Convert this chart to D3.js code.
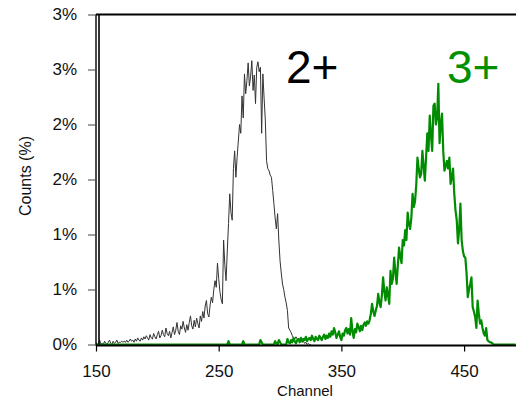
<!DOCTYPE html>
<html>
<head>
<meta charset="utf-8">
<script src="https://cdn.jsdelivr.net/npm/d3@7"></script>
<style>
  body { margin: 0; background: #fff; }
  svg { display: block; font-family: "Liberation Sans", Arial, sans-serif; }
  .axis path { display: none; }
  .axis text { fill: #111; }
</style>
</head>
<body>
<div id="chart"></div>
<script>
// channel range and tick labels
const channelStart = 150;
const xTicks = [150, 250, 350, 450];
const yTicks = [0, 0.5, 1, 1.5, 2, 2.5, 3];
const seriesNames = ['2+', '3+'];

// counts (%) per channel, starting at channel 150
const counts2 = [
  0.02,0.00,0.01,0.04,0.00,0.01,0.00,0.03,0.01,0.00,
  0.02,0.04,0.01,0.00,0.03,0.01,0.02,0.04,0.01,0.02,
  0.02,0.03,0.02,0.03,0.02,0.04,0.02,0.03,0.05,0.03,
  0.04,0.02,0.05,0.03,0.06,0.04,0.03,0.06,0.04,0.07,
  0.05,0.08,0.06,0.04,0.09,0.06,0.05,0.10,0.07,0.05,
  0.09,0.12,0.06,0.08,0.13,0.09,0.07,0.15,0.10,0.08,
  0.12,0.06,0.11,0.16,0.09,0.13,0.20,0.12,0.09,0.17,
  0.14,0.21,0.15,0.11,0.18,0.13,0.20,0.26,0.17,0.14,
  0.22,0.16,0.24,0.19,0.15,0.26,0.21,0.30,0.24,0.35,
  0.40,0.28,0.25,0.36,0.43,0.38,0.50,0.58,0.52,0.74,
  0.60,0.48,0.41,0.37,0.95,0.72,0.58,0.85,1.10,1.37,
  1.20,1.13,1.60,1.76,1.52,1.70,1.85,2.00,1.92,2.26,
  2.06,2.46,2.28,2.40,2.56,2.35,2.44,2.58,2.31,2.45,
  2.19,2.52,2.57,2.48,2.52,1.92,2.46,2.24,2.04,1.67,
  1.60,1.58,1.54,1.52,1.40,1.28,1.15,1.05,1.19,0.95,
  0.76,0.65,0.55,0.50,0.43,0.38,0.31,0.15,0.13,0.11,
  0.08,0.06,0.05,0.07,0.05,0.04,0.04,0.03,0.02,0.03,
  0.01,0.02,0.00,0.01,0.00,0.00
];

const counts3 = [
  0,0,0,0,0,0,0,0,0,0,
  0,0,0,0,0,0,0,0,0,0,
  0,0,0,0,0,0,0,0,0,0,
  0,0,0,0,0,0,0,0,0,0,
  0,0,0,0,0,0,0,0,0,0,
  0,0,0,0,0,0,0,0,0,0,
  0,0,0,0,0,0,0,0,0,0,
  0,0,0,0,0,0,0,0,0,0,
  0,0,0,0,0,0,0,0,0,0,
  0,0,0,0,0,0,0,0,0,0,
  0,0,0,0,0,0,0,0,0.03,0,
  0,0,0,0,0,0,0,0,0,0,
  0.03,0,0,0,0,0,0,0,0,0,
  0,0,0,0,0.04,0.02,0,0,0,0,
  0,0,0,0,0,0,0.03,0.01,0,0.04,
  0.02,0,0,0,0,0,0.05,0.02,0.01,0.04,
  0.02,0.06,0.03,0.01,0.04,0.05,0.02,0.06,0.03,0.05,
  0.04,0.07,0.03,0.05,0.06,0.04,0.08,0.05,0.03,0.07,
  0.05,0.04,0.08,0.06,0.04,0.07,0.09,0.05,0.08,0.06,
  0.10,0.07,0.12,0.09,0.15,0.11,0.06,0.09,0.12,0.07,
  0.04,0.10,0.08,0.13,0.15,0.10,0.14,0.09,0.24,0.12,
  0.06,0.14,0.11,0.19,0.16,0.12,0.17,0.13,0.18,0.20,
  0.17,0.21,0.19,0.22,0.28,0.37,0.30,0.26,0.31,0.35,
  0.46,0.38,0.34,0.45,0.61,0.48,0.40,0.52,0.45,0.37,
  0.67,0.55,0.60,0.79,0.66,0.55,0.72,0.88,0.80,0.74,
  0.95,0.90,1.04,0.95,1.20,1.10,1.05,1.15,1.37,1.25,
  1.30,1.45,1.70,1.60,1.52,1.55,1.76,1.62,1.49,1.70,
  1.92,1.76,2.08,1.90,1.76,2.17,2.19,2.00,2.06,2.37,
  1.83,2.00,2.10,1.76,1.58,1.62,1.67,1.60,1.70,1.46,
  1.52,1.60,1.37,1.22,1.13,0.92,1.05,1.28,0.95,0.85,
  0.80,0.79,0.65,0.43,0.50,0.55,0.61,0.34,0.30,0.25,
  0.15,0.40,0.28,0.19,0.22,0.15,0.10,0.08,0.15,0.04,
  0.03,0.02,0.02,0.01,0,0,0,0,0,0,
  0,0,0,0,0,0,0,0,0,0,0,0,0
];

const width = 516;
const height = 399;
const margin = { top: 14.5, left: 96, bottom: 54.5 };

const svg = d3.select('#chart').append('svg')
  .attr('width', width)
  .attr('height', height);

const x = d3.scaleLinear()
  .domain([150, 500])
  .range([margin.left, margin.left + 350 * 1.227]);

const y = d3.scaleLinear()
  .domain([0, 3])
  .range([height - margin.bottom, margin.top]);

const toPoints = arr => arr.map((v, i) => [channelStart + i, v]);

const line = d3.line()
  .x(d => x(d[0]))
  .y(d => y(d[1]));

// series lines
svg.append('path')
  .datum(toPoints(counts2))
  .attr('fill', 'none')
  .attr('stroke', '#333')
  .attr('stroke-width', 1)
  .attr('d', line);

svg.append('path')
  .datum(toPoints(counts3))
  .attr('fill', 'none')
  .attr('stroke', '#008c00')
  .attr('stroke-width', 2.2)
  .attr('stroke-linejoin', 'round')
  .attr('d', line);

// frame: double left line, top border, bottom axis
const x0 = x(150), xEnd = width + 5;
svg.append('line')
  .attr('x1', x0).attr('x2', x0)
  .attr('y1', y(3)).attr('y2', y(0) + 1)
  .attr('stroke', '#000').attr('stroke-width', 1.4);
svg.append('line')
  .attr('x1', x0 + 3).attr('x2', x0 + 3)
  .attr('y1', y(3)).attr('y2', y(0))
  .attr('stroke', '#000').attr('stroke-width', 1.6);
svg.append('line')
  .attr('x1', x0).attr('x2', xEnd)
  .attr('y1', y(3)).attr('y2', y(3))
  .attr('stroke', '#000').attr('stroke-width', 2);
svg.append('line')
  .attr('x1', x0).attr('x2', xEnd)
  .attr('y1', y(0) + 1).attr('y2', y(0) + 1)
  .attr('stroke', '#000').attr('stroke-width', 2);

// axes
const yAxis = svg.append('g')
  .attr('class', 'axis')
  .attr('transform', `translate(${x0},0)`)
  .call(d3.axisLeft(y)
    .tickValues(yTicks)
    .tickSize(8)
    .tickPadding(11)
    .tickFormat(d => Math.round(d) + '%'));
yAxis.selectAll('line').attr('stroke', '#444');
yAxis.selectAll('text').attr('font-size', 17);

const xAxis = svg.append('g')
  .attr('class', 'axis')
  .attr('transform', `translate(0,${y(0) + 1})`)
  .call(d3.axisBottom(x)
    .tickValues(xTicks)
    .tickSize(6)
    .tickPadding(13)
    .tickFormat(d3.format('d')));
xAxis.selectAll('line').attr('stroke', '#000').attr('stroke-width', 1.2);
xAxis.selectAll('text').attr('font-size', 17);

// axis titles
svg.append('text')
  .attr('x', 305)
  .attr('y', 396)
  .attr('text-anchor', 'middle')
  .attr('font-size', 15)
  .attr('fill', '#111')
  .text('Channel');

svg.append('text')
  .attr('transform', `translate(31,176) rotate(-90)`)
  .attr('text-anchor', 'middle')
  .attr('font-size', 16)
  .attr('fill', '#111')
  .text('Counts (%)');

// peak labels
svg.append('text')
  .attr('x', 286)
  .attr('y', 83)
  .attr('font-size', 46)
  .attr('fill', '#000')
  .text(seriesNames[0]);

svg.append('text')
  .attr('x', 447)
  .attr('y', 83)
  .attr('font-size', 46)
  .attr('fill', '#009000')
  .text(seriesNames[1]);
</script>
</body>
</html>
